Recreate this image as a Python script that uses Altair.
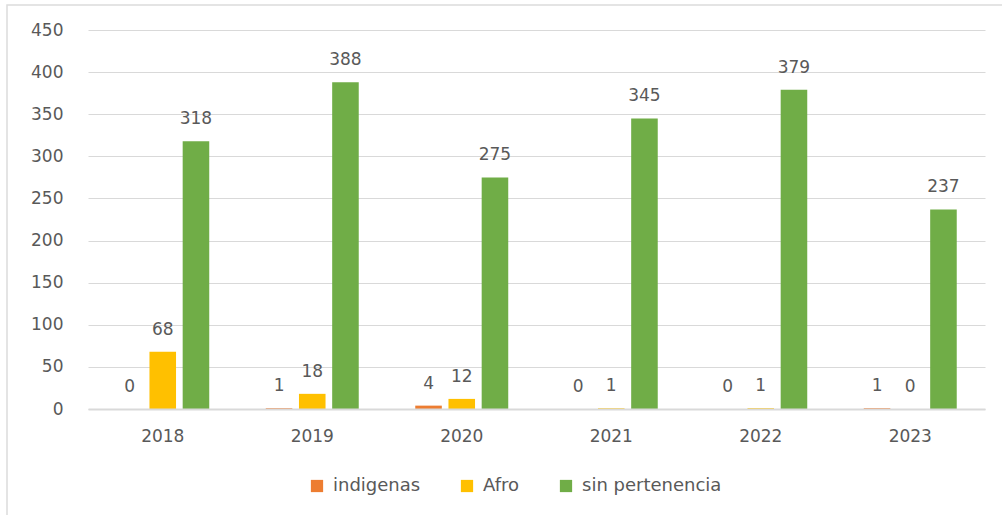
import altair as alt
import pandas as pd

# Yearly counts per group
years = ["2018", "2019", "2020", "2021", "2022", "2023"]
indigenas = [0, 1, 4, 0, 0, 1]
afro = [68, 18, 12, 1, 1, 0]
sin_pertenencia = [318, 388, 275, 345, 379, 237]

series_names = ["indigenas", "Afro", "sin pertenencia"]
series_colors = ["#ED7D31", "#FFC000", "#70AD47"]
y_ticks = list(range(0, 451, 50))

rows = []
for name, values in zip(series_names, [indigenas, afro, sin_pertenencia]):
    for year, v in zip(years, values):
        rows.append({"year": year, "grupo": name, "valor": v})
df = pd.DataFrame(rows)

FONT = "DejaVu Sans"
GREY = "#595959"
GRID = "#d9d9d9"

x_enc = alt.X(
    "year:N",
    sort=years,
    title=None,
    scale=alt.Scale(paddingInner=0.378, paddingOuter=0.189),
    axis=alt.Axis(
        labelAngle=0,
        labelFont=FONT,
        labelFontSize=17,
        labelColor=GREY,
        labelPadding=19,
        ticks=False,
        domain=True,
        domainColor=GRID,
        domainWidth=2,
        grid=False,
        zindex=1,
    ),
)
xoff_enc = alt.XOffset(
    "grupo:N",
    sort=series_names,
    scale=alt.Scale(domain=series_names, paddingInner=0.2, paddingOuter=0),
)
y_enc = alt.Y(
    "valor:Q",
    title=None,
    scale=alt.Scale(domain=[0, 450], nice=False),
    axis=alt.Axis(
        values=y_ticks,
        labelFont=FONT,
        labelFontSize=17,
        labelColor=GREY,
        labelPadding=25,
        ticks=False,
        domain=False,
        grid=True,
        gridColor=GRID,
        gridWidth=1,
    ),
)

bars = alt.Chart(df).mark_bar().encode(
    x=x_enc,
    xOffset=xoff_enc,
    y=y_enc,
    color=alt.Color(
        "grupo:N",
        sort=series_names,
        scale=alt.Scale(domain=series_names, range=series_colors),
        legend=alt.Legend(
            title=None,
            orient="none",
            direction="horizontal",
            legendX=220,
            legendY=447,
            symbolType="square",
            symbolSize=150,
            symbolStrokeWidth=0,
            labelFont=FONT,
            labelFontSize=18,
            labelColor=GREY,
            labelOffset=7,
            columnPadding=37,
        ),
    ),
)

labels = alt.Chart(df).mark_text(
    font=FONT, fontSize=17, color=GREY, baseline="alphabetic", dy=-17
).encode(
    x=alt.X("year:N", sort=years),
    xOffset=alt.XOffset("grupo:N", sort=series_names),
    y=alt.Y("valor:Q"),
    text=alt.Text("valor:Q"),
)

# Light outer frame around the chart area
frame = alt.Chart(pd.DataFrame({"k": [0]})).mark_rect(
    fill=None, stroke="#dcdcdc", strokeWidth=1.5
).encode(
    x=alt.value(-81), x2=alt.value(1000), y=alt.value(-25), y2=alt.value(700)
)

chart = (
    alt.layer(frame, bars, labels)
    .properties(
        width=897,
        height=379,
        autosize=alt.AutoSizeParams(type="none"),
        padding={"left": 88, "top": 30, "right": 17, "bottom": 106},
        background="white",
    )
    .configure_view(stroke=None)
)

chart.save("out.html", embed_options={"renderer": "svg", "actions": False})
